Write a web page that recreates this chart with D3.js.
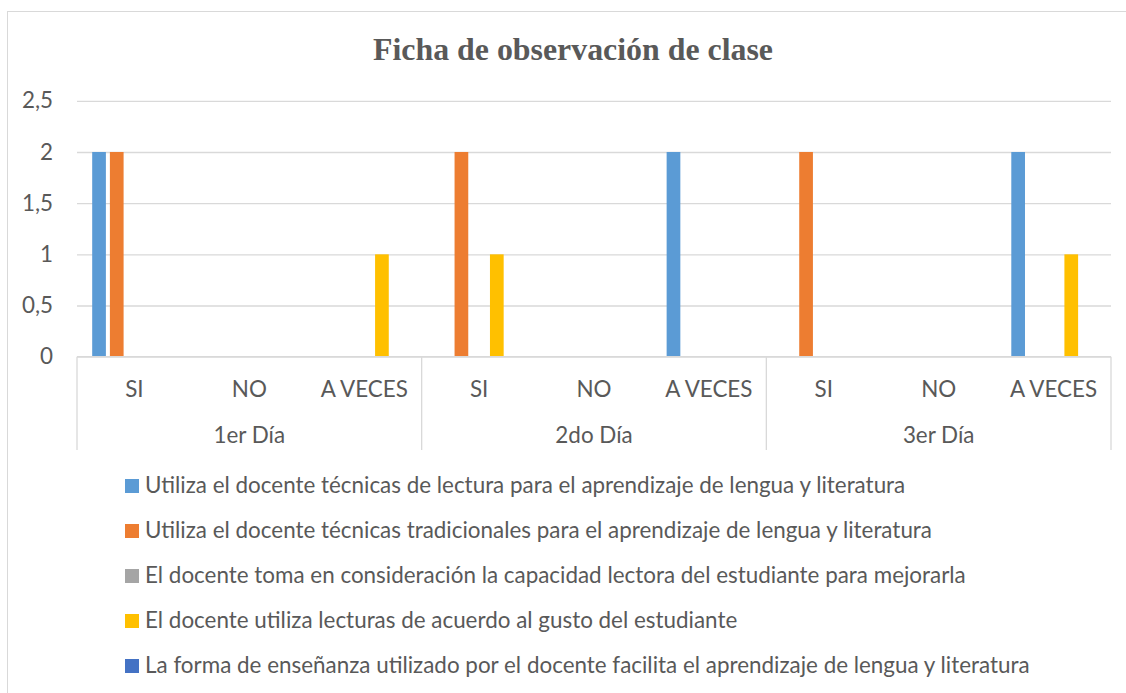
<!DOCTYPE html>
<html>
<head>
<meta charset="utf-8">
<script src="https://cdn.jsdelivr.net/npm/d3@7"></script>
<style>
  html, body { margin: 0; padding: 0; background: #fff; }
  svg { display: block; }
</style>
</head>
<body>
<svg id="chart" width="1126" height="693"></svg>
<script>
// ---- Data ----
const days = ["1er Día", "2do Día", "3er Día"];
const answers = ["SI", "NO", "A VECES"];
const seriesNames = [
  "Utiliza el docente técnicas de lectura para el aprendizaje de lengua y literatura",
  "Utiliza el docente técnicas tradicionales para el aprendizaje de lengua y literatura",
  "El docente toma en consideración la capacidad lectora del estudiante para mejorarla",
  "El docente utiliza lecturas de acuerdo al gusto del estudiante",
  "La forma de enseñanza utilizado por el docente facilita el aprendizaje de lengua y literatura"
];
const seriesColors = ["#5B9BD5", "#ED7D31", "#A5A5A5", "#FFC000", "#4472C4"];
// values in order: 1er SI, NO, A VECES, 2do SI, NO, A VECES, 3er SI, NO, A VECES
const s1Values = [2, 0, 0, 0, 0, 2, 0, 0, 2];
const s2Values = [2, 0, 0, 2, 0, 0, 2, 0, 0];
const s3Values = [0, 0, 0, 0, 0, 0, 0, 0, 0];
const s4Values = [0, 0, 1, 1, 0, 0, 0, 0, 1];
const s5Values = [0, 0, 0, 0, 0, 0, 0, 0, 0];
const seriesValues = [s1Values, s2Values, s3Values, s4Values, s5Values];
const yTicks = [0, 0.5, 1, 1.5, 2, 2.5];
const chartTitle = "Ficha de observación de clase";

// ---- Layout ----
const svg = d3.select("#chart");
const plotLeft = 77, plotRight = 1111, plotTop = 100.8, plotBottom = 356.7;
const textColor = "#595959";
const gridColor = "#D9D9D9";
const sansFont = "Lato, 'Open Sans', sans-serif";
const serifFont = "'Liberation Serif', 'Times New Roman', serif";

// fit font size so that legend row 1 width matches the reference
function fitSize(text, family, weight, target) {
  const t = svg.append("text").attr("font-family", family).attr("font-weight", weight)
    .attr("font-size", 20).text(text);
  const w = t.node().getComputedTextLength();
  t.remove();
  return 20 * target / w;
}
const fs = fitSize(seriesNames[0], sansFont, "normal", 761);
const titleFs = fitSize(chartTitle, serifFont, "bold", 400);

// chart border
svg.append("rect").attr("x", 7.5).attr("y", 11.5).attr("width", 1140).attr("height", 700)
  .attr("fill", "none").attr("stroke", gridColor).attr("stroke-width", 1);

// title
svg.append("text").attr("x", 573).attr("y", 60).attr("text-anchor", "middle")
  .attr("font-family", serifFont)
  .attr("font-weight", "bold").attr("font-size", titleFs).attr("fill", textColor)
  .text(chartTitle);

// scales
const cats = [];
days.forEach(d => answers.forEach(a => cats.push(d + "|" + a)));
const x0 = d3.scaleBand().domain(cats).range([plotLeft, plotRight]).padding(0);
const x1 = d3.scaleBand().domain(d3.range(seriesNames.length))
  .range([0, x0.bandwidth()]).paddingInner(0.226).paddingOuter(0.858);
const y = d3.scaleLinear().domain([0, 2.5]).range([plotBottom, plotTop]);

// y axis with gridlines
const yAxis = d3.axisLeft(y).tickValues(yTicks)
  .tickSize(-(plotRight - plotLeft)).tickPadding(24)
  .tickFormat(d => String(d).replace(".", ","));
const yg = svg.append("g").attr("transform", `translate(${plotLeft},0)`).call(yAxis);
yg.select(".domain").remove();
yg.selectAll(".tick line").attr("stroke", gridColor).attr("stroke-width", 1.3);
yg.selectAll(".tick text").attr("font-family", sansFont).attr("font-size", fs)
  .attr("fill", textColor);

// bars
const barData = [];
seriesValues.forEach((vals, si) => vals.forEach((v, ci) => barData.push({ si, cat: cats[ci], v })));
svg.append("g").selectAll("rect").data(barData).join("rect")
  .attr("x", d => x0(d.cat) + x1(d.si))
  .attr("width", x1.bandwidth())
  .attr("y", d => y(d.v))
  .attr("height", d => y(0) - y(d.v))
  .attr("fill", d => seriesColors[d.si]);

// category axis (multi-level)
const xg = svg.append("g");
xg.append("line").attr("x1", plotLeft).attr("x2", plotRight).attr("y1", plotBottom).attr("y2", plotBottom)
  .attr("stroke", gridColor).attr("stroke-width", 1.3);
const dayBounds = days.map(d => x0(d + "|" + answers[0])).concat([plotRight]);
xg.selectAll("line.sep").data(dayBounds).join("line").attr("class", "sep")
  .attr("x1", d => d).attr("x2", d => d).attr("y1", plotBottom).attr("y2", 450)
  .attr("stroke", gridColor).attr("stroke-width", 1.3);
xg.selectAll("text.cat").data(cats).join("text").attr("class", "cat")
  .attr("x", d => x0(d) + x0.bandwidth() / 2).attr("y", 396.5)
  .attr("text-anchor", "middle").attr("font-family", sansFont).attr("font-size", fs)
  .attr("fill", textColor).text(d => d.split("|")[1]);
xg.selectAll("text.day").data(days).join("text").attr("class", "day")
  .attr("x", (d, i) => (dayBounds[i] + dayBounds[i + 1]) / 2).attr("y", 442.5)
  .attr("text-anchor", "middle").attr("font-family", sansFont).attr("font-size", fs)
  .attr("fill", textColor).text(d => d);

// legend
const lg = svg.append("g").selectAll("g").data(seriesNames).join("g")
  .attr("transform", (d, i) => `translate(125,${493 + i * 45})`);
lg.append("rect").attr("x", 0).attr("y", -14).attr("width", 14).attr("height", 14)
  .attr("fill", (d, i) => seriesColors[i]);
lg.append("text").attr("x", 20).attr("y", 0).attr("font-family", sansFont)
  .attr("font-size", fs).attr("fill", textColor).text(d => d);
</script>
</body>
</html>
